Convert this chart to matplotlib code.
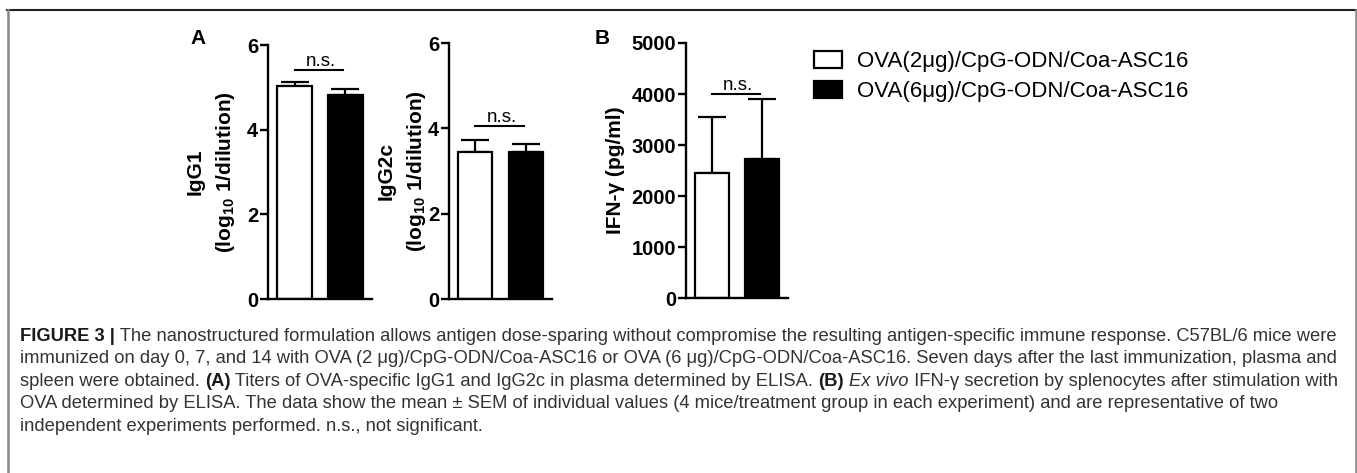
import numpy as np
import matplotlib
matplotlib.use("Agg")
import matplotlib.pyplot as plt
from matplotlib.patches import Patch
from matplotlib.lines import Line2D

plt.rcParams['font.family'] = ['Liberation Sans', 'DejaVu Sans']
plt.rcParams['mathtext.fontset'] = 'custom'
plt.rcParams['mathtext.rm'] = 'Liberation Sans'
plt.rcParams['mathtext.bf'] = 'Liberation Sans:bold'

# data
groups = ["OVA(2\u03bcg)/CpG-ODN/Coa-ASC16", "OVA(6\u03bcg)/CpG-ODN/Coa-ASC16"]
bar_colors = ["white", "black"]

igg1_mean = [5.03, 4.82]
igg1_sem = [0.10, 0.13]
igg2c_mean = [3.44, 3.45]
igg2c_sem = [0.29, 0.18]
ifn_mean = [2457, 2719]
ifn_sem = [1096, 1180]

ns_height = [5.41, 4.05, 3996]

W, H = 1357, 473
fig = plt.figure(figsize=(W / 100, H / 100), dpi=100)


def fx(x):
    return x / W


def fy(y):
    return 1 - y / H


def make_axes(left, right, top, bottom):
    return fig.add_axes([fx(left), fy(bottom), fx(right - left), (bottom - top) / H])


def bar_panel(ax, mean, sem, ylim, yticks, ns_y, ylabel, labelpad):
    x = np.arange(len(mean))
    ax.bar(x, mean, width=0.68, color=bar_colors, edgecolor="black", linewidth=1.6, zorder=2)
    ax.errorbar(x, mean, yerr=[np.zeros(len(sem)), sem], fmt="none", ecolor="black",
                elinewidth=1.6, capsize=10, capthick=1.6, zorder=1)
    ax.set_xlim(-0.52, 1.52)
    ax.set_ylim(*ylim)
    ax.set_yticks(yticks)
    ax.set_xticks([])
    for s in ["top", "right"]:
        ax.spines[s].set_visible(False)
    for s in ["left", "bottom"]:
        ax.spines[s].set_linewidth(1.7)
    ax.tick_params(axis="y", width=1.7, length=6, pad=1, labelsize=14.5)
    for lab in ax.get_yticklabels():
        lab.set_fontweight("bold")
    ax.set_ylabel(ylabel, fontsize=15, fontweight="bold", labelpad=labelpad, linespacing=1.55)
    ax.plot([0.0, 0.96], [ns_y, ns_y], color="black", lw=1.5, clip_on=False)
    ax.text(0.52, ns_y, "n.s.", ha="center", va="bottom", fontsize=13.5)


ax1 = make_axes(268, 372, 45, 299)
bar_panel(ax1, igg1_mean, igg1_sem, (0, 6), [0, 2, 4, 6], ns_height[0],
          "IgG1\n(log$_{\\mathbf{10}}$ 1/dilution)", 7)

ax2 = make_axes(449, 552, 43, 299)
bar_panel(ax2, igg2c_mean, igg2c_sem, (0, 6), [0, 2, 4, 6], ns_height[1],
          "IgG2c\n(log$_{\\mathbf{10}}$ 1/dilution)", 0)

ax3 = make_axes(686, 788, 43, 298)
bar_panel(ax3, ifn_mean, ifn_sem, (0, 5000), [0, 1000, 2000, 3000, 4000, 5000], ns_height[2],
          "IFN-\u03b3 (pg/ml)", 5)

fig.text(fx(198), fy(38), "A", ha="center", va="center", fontsize=15, fontweight="bold")
fig.text(fx(602), fy(38), "B", ha="center", va="center", fontsize=15, fontweight="bold")

handles = [Patch(facecolor=c, edgecolor="black", linewidth=1.6) for c in bar_colors]
fig.legend(handles, groups, loc="upper left", bbox_to_anchor=(fx(814), fy(51)),
           frameon=False, fontsize=16, borderpad=0, borderaxespad=0,
           handlelength=1.26, handleheight=0.81, handletextpad=0.68, labelspacing=0.38)

# frame of the figure box
fig.add_artist(Line2D([fx(7), 1], [fy(10), fy(10)], color="#222222", lw=1.5))
fig.add_artist(Line2D([fx(7.5), fx(7.5)], [fy(10), 0], color="#888888", lw=1.8))
fig.add_artist(Line2D([fx(1356), fx(1356)], [fy(10), 0], color="#888888", lw=1.8))

# caption
N, B, I = "normal", "bold", "italic"
caption = [
    [("FIGURE 3 |", B), (" The nanostructured formulation allows antigen dose-sparing without compromise the resulting antigen-specific immune response. C57BL/6 mice were", N)],
    [("immunized on day 0, 7, and 14 with OVA (2 \u03bcg)/CpG-ODN/Coa-ASC16 or OVA (6 \u03bcg)/CpG-ODN/Coa-ASC16. Seven days after the last immunization, plasma and", N)],
    [("spleen were obtained. ", N), ("(A)", B), (" Titers of OVA-specific IgG1 and IgG2c in plasma determined by ELISA. ", N), ("(B)", B), (" ", N), ("Ex vivo", I), (" IFN-\u03b3 secretion by splenocytes after stimulation with", N)],
    [("OVA determined by ELISA. The data show the mean \u00b1 SEM of individual values (4 mice/treatment group in each experiment) and are representative of two", N)],
    [("independent experiments performed. n.s., not significant.", N)],
]
line_y = [336, 358.5, 381, 403.5, 426]

renderer = fig.canvas.get_renderer()


def seg_width(text, style, size):
    kw = dict(fontsize=size)
    if style == B:
        kw["fontweight"] = "bold"
    if style == I:
        kw["fontstyle"] = "italic"
    t = fig.text(0, 0, "|" + text + "|", **kw)
    w = t.get_window_extent(renderer).width
    t.remove()
    t = fig.text(0, 0, "||", **kw)
    w -= t.get_window_extent(renderer).width
    t.remove()
    return w


# fit the first line to the original width
ref = sum(seg_width(s, st, 10) for s, st in caption[0])
cap_size = 10 * 1323 / ref

for segs, y in zip(caption, line_y):
    x = 20
    for text, style in segs:
        kw = dict(fontsize=cap_size, va="center", ha="left", color="#333333")
        if style == B:
            kw["fontweight"] = "bold"
            kw["color"] = "#1a1a1a"
        if style == I:
            kw["fontstyle"] = "italic"
        fig.text(fx(x), fy(y), text, **kw)
        x += seg_width(text, style, cap_size)

fig.savefig("out.png", dpi=100)
